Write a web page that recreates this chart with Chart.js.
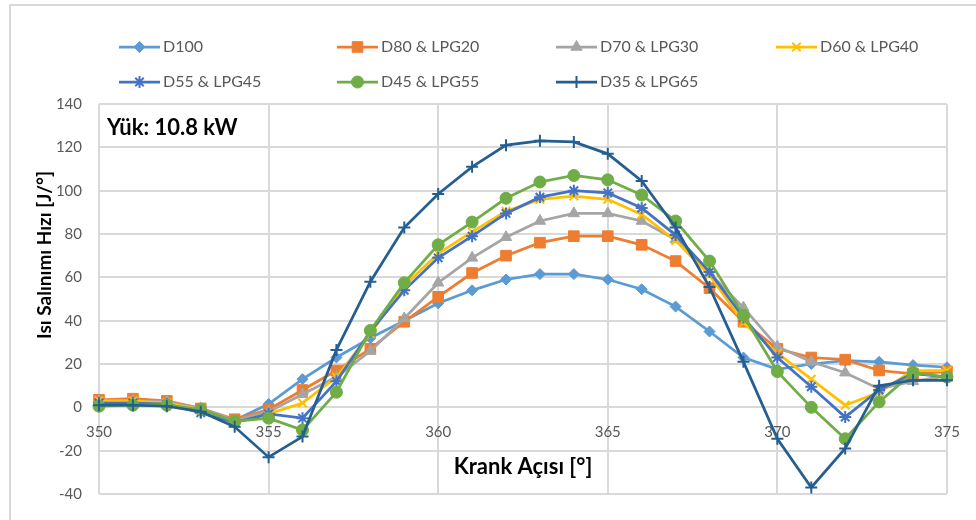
<!DOCTYPE html>
<html>
<head>
<meta charset="utf-8">
<script src="https://cdn.jsdelivr.net/npm/chart.js@4/dist/chart.umd.min.js"></script>
<style>
html,body{margin:0;padding:0;background:#fff;}
#wrap{width:976px;height:520px;position:relative;}
</style>
</head>
<body>
<div id="wrap"><canvas id="c" width="976" height="520"></canvas></div>
<script>
// ---------- data ----------
const crankAngles = [350,351,352,353,354,355,356,357,358,359,360,361,362,363,364,365,366,367,368,369,370,371,372,373,374,375];
const seriesNames = ['D100','D80 & LPG20','D70 & LPG30','D60 & LPG40','D55 & LPG45','D45 & LPG55','D35 & LPG65'];
const d100     = [2.5,3,2,-1,-6,1.5,13,23,32,40,48,54,59,61.5,61.5,59,54.5,46.5,35,23,17.5,20,21.5,21,19.5,18.5];
const d80lpg20 = [3.5,4,3,-0.5,-5.5,-1,8,17,27,39.5,51,62,70,76,79,79,75,67.5,55,39.5,27,23,22,17,15.5,16.5];
const d70lpg30 = [3,3,2.5,-0.5,-6,-2,6,14,26,41,57.5,69,78.5,86,89.5,89.5,86,77.5,62,46,28,21,16,8.5,12,14.5];
const d60lpg40 = [3,3,2,-1,-7,-3,2,14,34,56,71,81,90.5,96,97.5,96,89,77,61,39,25,13,1,7,17,17];
const d55lpg45 = [2,2,1.5,-2.5,-7,-3,-5,12,35,54,69,79,89.5,97,100,99,92,79.5,62.5,41.5,23,9.5,-4.5,8,15.5,14];
const d45lpg55 = [0.5,1,1,-1,-6.5,-5,-10.5,7,35.5,57.5,75,85.5,96.5,104,107,105,98,86,67.5,42.5,16.5,0,-14.5,2.5,16,14];
const d35lpg65 = [1,1,0.5,-2,-9,-23,-13.5,26.5,58,83,98.5,111,121,123,122.5,117,104.5,83,55.5,21,-14.5,-37,-19,10,12.5,12.5];
const yTicksMin = -40, yTicksMax = 140, yStep = 20;
const xTicksMin = 350, xTicksMax = 375, xStep = 5;
const xTitle = 'Krank Açısı [°]';
const yTitle = 'Isı Salınımı Hızı [J/°]';
const loadLabel = 'Yük: 10.8 kW';

// ---------- styles ----------
const allValues = [d100,d80lpg20,d70lpg30,d60lpg40,d55lpg45,d45lpg55,d35lpg65];
const colors = ['#5B9BD5','#ED7D31','#A5A5A5','#FFC000','#4472C4','#70AD47','#255E91'];
const pStyles = ['rectRot','rect','triangle','crossRot','star','circle','cross'];
const pRadius = [5.5,7.5,6.5,6,6,6,6];
const pBorder = [1,1,1,2,2,1,2];
const FONT = 'Lato, "Open Sans", sans-serif';

const datasets = allValues.map((vals, i) => ({
  label: seriesNames[i],
  data: crankAngles.map((a, k) => ({x: a, y: vals[k]})),
  borderColor: colors[i],
  backgroundColor: colors[i],
  pointBackgroundColor: colors[i],
  pointBorderColor: colors[i],
  pointStyle: pStyles[i],
  pointRadius: pRadius[i],
  pointBorderWidth: pBorder[i],
  borderWidth: 2.75,
  tension: 0,
  clip: false,
  order: allValues.length - i
}));

const decor = {
  id: 'decor',
  beforeDraw(chart) {
    const ctx = chart.ctx;
    ctx.save();
    ctx.fillStyle = '#ffffff';
    ctx.fillRect(0, 0, chart.width, chart.height);
    ctx.strokeStyle = '#d9d9d9';
    ctx.lineWidth = 2;
    ctx.strokeRect(10, 5, chart.width + 20, chart.height + 20);
    ctx.restore();
  },
  afterDraw(chart) {
    const ctx = chart.ctx;
    // legend
    const colX = [119, 337, 556, 776];
    const rowY = [47, 82];
    ctx.save();
    chart.data.datasets.forEach((ds, i) => {
      const x0 = colX[i % 4], y = rowY[Math.floor(i / 4)];
      ctx.strokeStyle = ds.borderColor;
      ctx.lineWidth = ds.borderWidth;
      ctx.beginPath(); ctx.moveTo(x0, y); ctx.lineTo(x0 + 41, y); ctx.stroke();
      ctx.fillStyle = ds.pointBackgroundColor;
      ctx.strokeStyle = ds.pointBorderColor;
      ctx.lineWidth = ds.pointBorderWidth;
      Chart.helpers.drawPoint(ctx, {pointStyle: ds.pointStyle, radius: ds.pointRadius, borderWidth: ds.pointBorderWidth, rotation: 0}, x0 + 20.5, y);
      ctx.fillStyle = '#595959';
      ctx.font = '16px ' + FONT;
      ctx.textAlign = 'left';
      ctx.textBaseline = 'middle';
      ctx.fillText(ds.label, x0 + 44, y);
    });
    // y title
    ctx.save();
    ctx.translate(45, 255);
    ctx.rotate(-Math.PI / 2);
    ctx.font = 'bold 19px ' + FONT;
    ctx.fillStyle = '#000';
    ctx.textAlign = 'center';
    ctx.textBaseline = 'middle';
    ctx.fillText(yTitle, 0, 0);
    ctx.restore();
    // load annotation
    ctx.font = 'bold 22px ' + FONT;
    ctx.fillStyle = '#000';
    ctx.textAlign = 'left';
    ctx.textBaseline = 'middle';
    ctx.fillText(loadLabel, 107, 128);
    ctx.restore();
  }
};

new Chart(document.getElementById('c'), {
  type: 'line',
  data: { datasets },
  options: {
    responsive: false,
    animation: false,
    layout: { padding: { left: 0, top: 104, right: 24, bottom: 26 } },
    plugins: { legend: { display: false }, tooltip: { enabled: false } },
    scales: {
      x: {
        type: 'linear',
        min: xTicksMin, max: xTicksMax,
        position: { y: 0 },
        ticks: { stepSize: xStep, padding: 16, maxRotation: 0, color: '#595959', font: { family: FONT, size: 15 } },
        grid: { color: '#d9d9d9', lineWidth: 2, drawTicks: false },
        border: { display: false },
        title: { display: true, text: xTitle, color: '#000', font: { family: FONT, size: 22, weight: 'bold' }, padding: { top: -4, bottom: 0 } }
      },
      y: {
        min: yTicksMin, max: yTicksMax,
        ticks: { stepSize: yStep, padding: 17, color: '#595959', font: { family: FONT, size: 15 } },
        grid: { color: '#d9d9d9', lineWidth: 2, drawTicks: false },
        border: { display: false },
        afterFit: (s) => { s.width = 99; }
      }
    }
  },
  plugins: [decor]
});
</script>
</body>
</html>
